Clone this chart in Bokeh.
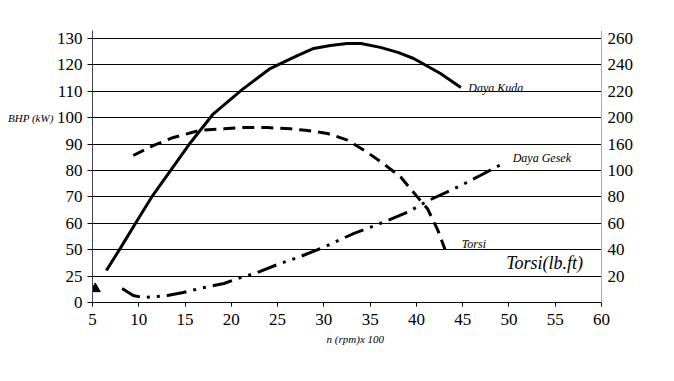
import numpy as np
from bokeh.plotting import figure
from bokeh.models import Range1d, LinearAxis, FixedTicker, Label
from bokeh.embed import file_html
from bokeh.resources import INLINE

# ---- data ----
x_ticks = [5, 10, 15, 20, 25, 30, 35, 40, 45, 50, 55, 60]
left_labels = [0, 25, 50, 60, 70, 80, 90, 100, 110, 120, 130]
right_labels = [0, 20, 40, 60, 80, 100, 160, 200, 220, 240, 260]

rpm_kuda = [6.5, 8.0, 9.7, 11.5, 13.6, 15.6, 18.0, 21.2, 24.2, 25.6, 27.2,
            28.9, 30.7, 32.5, 34.0, 36.1, 38.0, 39.7, 42.6, 44.8]
daya_kuda = [30.3, 50.5, 60.3, 70.5, 80.8, 90.6, 101.2, 110.7, 118.6, 120.9,
             123.6, 126.2, 127.3, 128.1, 128.1, 126.6, 124.7, 122.4, 116.7, 111.4]

rpm_torsi = [9.4, 11.6, 13.75, 16.7, 19.2, 21.3, 23.9, 26.4, 28.0, 30.4,
             32.55, 34.7, 36.4, 38.3, 40.1, 41.2, 42.3, 43.1]
torsi = [134, 157, 170, 181, 183, 185, 185, 183, 181, 176,
         166, 141, 116, 95, 80, 71, 55, 40]

rpm_gesek = [8.2, 9.4, 10.5, 12.0, 13.1, 14.8, 16.6, 19.2, 20.7, 22.8, 25.3,
             27.2, 29.9, 33.2, 35.8, 39.0, 41.3, 44.8, 46.9, 49.4]
daya_gesek = [13.3, 6.6, 4.7, 5.7, 6.6, 9.5, 13.3, 18.0, 22.7, 28.4, 37.0,
              42.6, 50.8, 56.1, 59.5, 64.1, 68.6, 74.3, 78.1, 82.7]

marker_rpm = [5.3]
marker_val = [13]

# ---- axis position helpers (evenly spaced gridlines, non-linear labels) ----
idx = list(range(len(left_labels)))


def pos_left(v):
    return np.interp(v, left_labels, idx)


def pos_right(v):
    return np.interp(v, right_labels, idx)


FONT = "Liberation Serif"

p = figure(width=670, height=360, output_backend="svg", toolbar_location=None,
           x_range=Range1d(5, 60), y_range=Range1d(0, 10.3),
           min_border_left=92, min_border_right=69, min_border_top=30,
           min_border_bottom=58, background_fill_color="white",
           border_fill_color="white", outline_line_color=None)

# x axis
p.xaxis.ticker = FixedTicker(ticks=x_ticks)
p.xaxis.axis_line_color = "black"
p.xaxis.major_tick_out = 4
p.xaxis.major_tick_in = 0
p.xaxis.minor_tick_line_color = None
p.xaxis.major_label_standoff = 7
p.xaxis.major_label_text_font = FONT
p.xaxis.major_label_text_font_size = "17px"
p.xaxis.major_label_text_color = "black"

# "n (rpm)x 100" written under the axis, right of centre as in the original
xl = LinearAxis(ticker=FixedTicker(ticks=[33.4]),
                major_label_overrides={33.4: "n (rpm)x 100"})
xl.axis_line_color = None
xl.major_tick_line_color = None
xl.minor_tick_line_color = None
xl.major_tick_out = 0
xl.major_tick_in = 0
xl.major_label_standoff = 5
xl.major_label_text_font = FONT
xl.major_label_text_font_style = "italic"
xl.major_label_text_font_size = "11px"
xl.major_label_text_color = "black"
p.add_layout(xl, "below")

# left axis
p.yaxis.ticker = FixedTicker(ticks=idx)
p.yaxis.major_label_overrides = {i: str(v) for i, v in zip(idx, left_labels)}
p.yaxis.axis_line_color = "#444444"
p.yaxis.major_tick_out = 5
p.yaxis.major_tick_in = 0
p.yaxis.minor_tick_line_color = None
p.yaxis.major_label_standoff = 5
p.yaxis.major_label_text_font = FONT
p.yaxis.major_label_text_font_size = "17px"
p.yaxis.major_label_text_color = "black"

# "BHP (kW)" written next to the 100 label
bhp = LinearAxis(ticker=FixedTicker(ticks=[7]), major_label_overrides={7: "BHP (kW)"})
bhp.axis_line_color = None
bhp.major_tick_line_color = None
bhp.minor_tick_line_color = None
bhp.major_tick_out = 0
bhp.major_tick_in = 0
bhp.major_label_standoff = 0
bhp.major_label_text_font = FONT
bhp.major_label_text_font_style = "italic"
bhp.major_label_text_font_size = "11px"
bhp.major_label_text_color = "black"
p.add_layout(bhp, "left")

# right axis
ra = LinearAxis(ticker=FixedTicker(ticks=idx[1:]),
                major_label_overrides={i: str(v) for i, v in zip(idx[1:], right_labels[1:])})
ra.axis_line_color = "#aaaaaa"
ra.major_tick_out = 0
ra.major_tick_in = 0
ra.minor_tick_line_color = None
ra.major_label_standoff = 6
ra.major_label_text_font = FONT
ra.major_label_text_font_size = "17px"
ra.major_label_text_color = "black"
p.add_layout(ra, "right")

p.xgrid.grid_line_color = None
p.ygrid.ticker = FixedTicker(ticks=idx[1:])
p.ygrid.grid_line_color = "black"
p.ygrid.grid_line_width = 1

# curves
p.line(rpm_kuda, pos_left(daya_kuda), line_color="black", line_width=3)
p.line(rpm_torsi, pos_right(torsi), line_color="black", line_width=3,
       line_dash="12 7")
p.line(rpm_gesek, pos_left(daya_gesek), line_color="black", line_width=3,
       line_dash="20 7 3 7 3 7")
p.scatter(marker_rpm, pos_left(marker_val), marker="triangle", size=10,
          color="black")


def lab(x, y, t, size):
    p.add_layout(Label(x=x, y=y, text=t, text_font=FONT,
                       text_font_size=size, text_baseline="middle",
                       text_align="left", text_color="black",
                       text_font_style="italic"))


lab(45.6, 8.14, "Daya Kuda", "12px")
lab(50.4, 5.49, "Daya Gesek", "12px")
lab(44.9, 2.23, "Torsi", "12px")
lab(49.7, 1.5, "Torsi(lb.ft)", "18px")

open("out.html", "w").write(file_html(p, INLINE))
